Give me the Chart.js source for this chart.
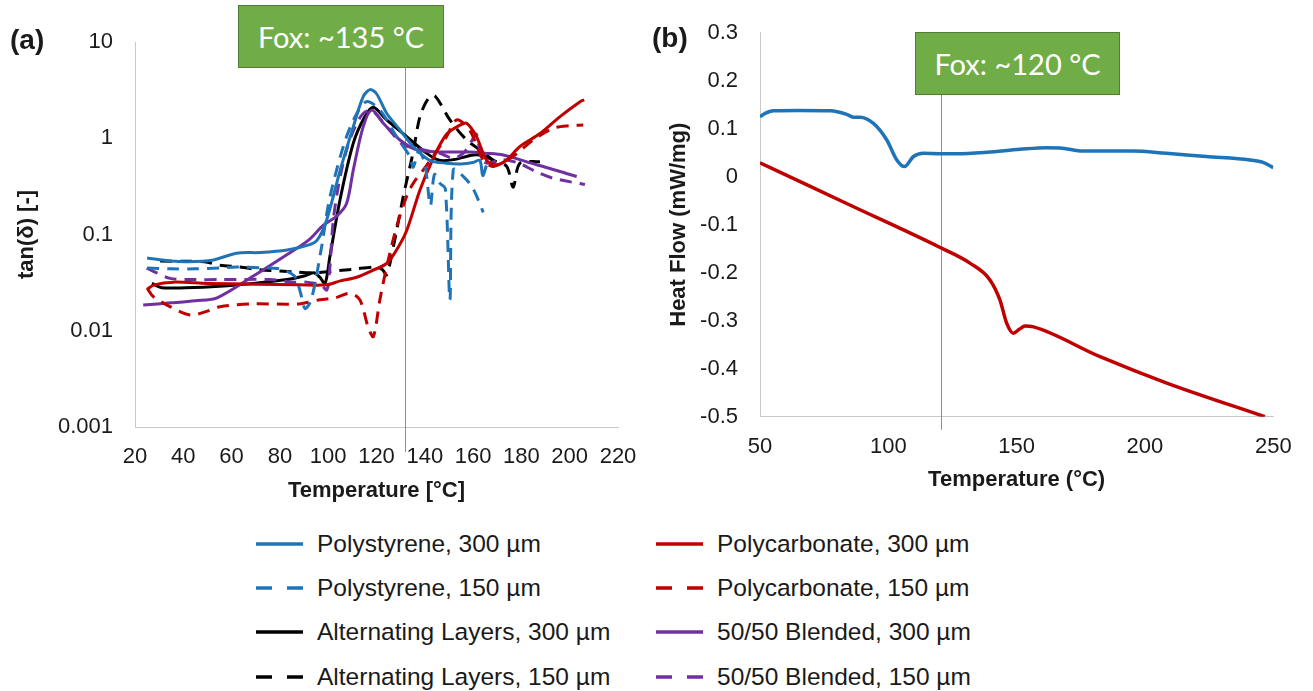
<!DOCTYPE html>
<html>
<head>
<meta charset="utf-8">
<title>tan(δ) and heat flow</title>
<script src="https://cdn.jsdelivr.net/npm/chart.js@4.4.1/dist/chart.umd.min.js"></script>
<style>
  body { margin: 0; background: #fff; }
  #page { position: relative; width: 1313px; height: 691px; overflow: hidden; background: #fff;
          font-family: 'Liberation Sans', Arial, sans-serif; color: #1a1a1a; }
  #chartA { position: absolute; left: 0; top: 0; }
  #chartB { position: absolute; left: 640px; top: 0; }
  .panel { position: absolute; font-weight: bold; font-size: 28px; line-height: 32px; }
  .fox { position: absolute; box-sizing: border-box; background: #70ad47; border: 1.5px solid #507e32;
         color: #fff; font-family: Lato, 'Open Sans', sans-serif; font-size: 29px;
         display: flex; align-items: center; justify-content: center; }
  .leg { position: absolute; height: 30px; display: flex; align-items: center; font-size: 24.5px; white-space: nowrap; }
  .leg svg { margin-right: 14px; }
</style>
</head>
<body>
<div id="page">
  <canvas id="chartA" width="640" height="510"></canvas>
  <canvas id="chartB" width="673" height="510"></canvas>
  <div class="panel" style="left:10px; top:24px;">(a)</div>
  <div class="panel" style="left:652px; top:22px;">(b)</div>
  <div class="fox" style="left:238px; top:5px; width:206px; height:63px;">Fox: ~135 °C</div>
  <div class="fox" style="left:915px; top:32px; width:205px; height:63px;">Fox: ~120 °C</div>
  <div id="legend"></div>
</div>

<script>
// ---------------------------------------------------------
// (a) tan(delta) vs temperature
// ---------------------------------------------------------
const tempPs300 = [25, 35, 41, 52, 62, 72, 83, 92, 95.5, 99.3, 105, 110.4, 114.5, 117.3, 120, 124.2, 129.7, 135.2, 142, 149, 155, 160, 162.8, 164, 165.5];
const tanPs300  = [0.057, 0.053, 0.052, 0.054, 0.064, 0.065, 0.069, 0.078, 0.088, 0.14, 0.47, 1.32, 2.7, 3.2, 2.9, 1.82, 1.22, 0.82, 0.59, 0.55, 0.54, 0.56, 0.59, 0.41, 0.52];

const tempPs150 = [25, 35, 45, 55, 62, 72, 80, 86, 88.5, 90.4, 93, 97.3, 100, 103.5, 107.6, 111.8, 115.9, 121.4, 128.3, 133.9, 135.2, 137.5, 140, 142.3, 144, 146.3, 148.5, 150.4, 151.8, 156, 160, 164.2];
const tanPs150  = [0.045, 0.044, 0.044, 0.045, 0.046, 0.045, 0.044, 0.037, 0.025, 0.017, 0.021, 0.075, 0.2, 0.47, 1.04, 1.8, 2.4, 1.97, 1.04, 0.64, 0.5, 0.73, 0.55, 0.2, 0.42, 0.34, 0.3, 0.021, 0.47, 0.4, 0.3, 0.17];

const tempAl300 = [27, 31, 41, 55, 69, 83, 90, 94, 96.5, 98.7, 100.7, 104.9, 110.4, 115.2, 118.7, 124.2, 132.5, 140.7, 146, 152, 160, 164, 168.4];
const tanAl300  = [0.031, 0.028, 0.028, 0.029, 0.031, 0.034, 0.037, 0.04, 0.036, 0.031, 0.059, 0.23, 0.89, 1.68, 2.1, 1.55, 1.04, 0.7, 0.59, 0.6, 0.67, 0.66, 0.59];

const tempAl150 = [30.4, 48.7, 55.2, 63.5, 71.7, 85.5, 93.8, 110, 120, 122.5, 124.2, 127, 131.1, 135.2, 138, 141.5, 144.2, 150.4, 157.3, 162.8, 168.4, 173.9, 176.6, 179.4, 187.7];
const tanAl150  = [0.053, 0.052, 0.048, 0.046, 0.043, 0.041, 0.04, 0.0435, 0.046, 0.043, 0.038, 0.075, 0.25, 0.72, 1.68, 2.6, 2.75, 1.55, 0.96, 0.76, 0.59, 0.51, 0.31, 0.55, 0.57];

const tempPc300 = [25, 28, 36, 50, 70, 88, 99.3, 105, 111.8, 118, 124.2, 128.3, 132.5, 138, 143.5, 149, 154.6, 157.3, 161.4, 165.6, 169.7, 173.8, 179.4, 187.7, 196, 204.3, 206];
const tanPc300  = [0.027, 0.03, 0.032, 0.031, 0.0305, 0.03, 0.03, 0.033, 0.036, 0.042, 0.05, 0.069, 0.11, 0.29, 0.62, 1.1, 1.37, 1.43, 1.04, 0.59, 0.53, 0.59, 0.82, 1.12, 1.68, 2.4, 2.5];

const tempPc150 = [25, 27.6, 34.5, 42.8, 50, 55.2, 69, 88, 96.6, 103, 109, 113.1, 116.5, 118.7, 121.4, 124.2, 128.3, 132.5, 135.2, 140.7, 149, 153.2, 158.7, 164.2, 168.4, 176.6, 184.9, 193.2, 200, 205.6];
const tanPc150  = [0.0277, 0.0226, 0.0178, 0.0146, 0.016, 0.0178, 0.019, 0.019, 0.021, 0.022, 0.0245, 0.021, 0.011, 0.0087, 0.021, 0.046, 0.12, 0.25, 0.34, 0.52, 1.04, 1.55, 1.2, 0.59, 0.51, 0.65, 0.96, 1.27, 1.35, 1.37];

const tempBl300 = [23.4, 35, 45, 54, 69, 83, 92, 98, 103.5, 107.6, 110.4, 114.5, 118, 122.8, 129.7, 136.6, 146.3, 152, 158.7, 165, 172.5, 186.3, 195, 202.9];
const tanBl300  = [0.0185, 0.0195, 0.0205, 0.022, 0.037, 0.062, 0.088, 0.125, 0.155, 0.21, 0.47, 1.32, 1.96, 1.43, 0.96, 0.76, 0.72, 0.72, 0.72, 0.7, 0.67, 0.53, 0.46, 0.4];

const tempBl150 = [24.8, 29, 34.5, 45, 55, 76, 85.5, 91, 97, 99.4, 100.5, 102.1, 104.5, 107.6, 111, 114.5, 118, 124.2, 131, 136, 140, 146, 151.8, 156, 159, 161.4, 163.5, 166, 172, 179, 186, 193.2, 206.3];
const tanBl150  = [0.0446, 0.04, 0.035, 0.034, 0.034, 0.034, 0.032, 0.032, 0.03, 0.0265, 0.04, 0.14, 0.35, 0.755, 1.3, 1.81, 1.95, 1.32, 0.85, 0.8, 0.75, 0.7, 0.62, 0.7, 0.9, 1.1, 0.6, 0.55, 0.6, 0.55, 0.45, 0.384, 0.33];

const tanTicks = [0.001, 0.01, 0.1, 1, 10];
const foxTempA = 132;

// ---------------------------------------------------------
// (b) heat flow (DSC)
// ---------------------------------------------------------
const dscTempPs = [50, 52, 55.2, 65, 77.3, 83.8, 86.4, 89, 94.2, 99.4, 103.3, 106.3, 109.8, 113.7, 120, 126.6, 138.4, 151.3, 161.7, 166.9, 175.9, 195.3, 208.3, 223.9, 240.9, 246, 250];
const dscFlowPs = [0.125, 0.132, 0.1375, 0.138, 0.1375, 0.13, 0.124, 0.124, 0.111, 0.0765, 0.035, 0.021, 0.042, 0.0487, 0.048, 0.048, 0.051, 0.057, 0.0604, 0.06, 0.0535, 0.0535, 0.0487, 0.042, 0.035, 0.03, 0.019];

const dscTempPc = [50, 85, 120, 131.8, 139.6, 143.5, 146.1, 148.7, 151, 153.3, 156.6, 182.5, 208.5, 246.7];
const dscFlowPc = [0.029, -0.059, -0.147, -0.18, -0.215, -0.257, -0.305, -0.326, -0.318, -0.311, -0.313, -0.375, -0.43, -0.5];

const foxTempB = 120.5;

// ---------------------------------------------------------
// series styles + legend
// ---------------------------------------------------------
const BLUE = '#1f74b8', RED = '#c00000', BLACK = '#000000', PURPLE = '#7030a0';
const DASH = [12, 8];

const seriesA = [
  { label: 'Polystyrene, 300 µm',        t: tempPs300, v: tanPs300, color: BLUE,   dash: [] },
  { label: 'Polystyrene, 150 µm',        t: tempPs150, v: tanPs150, color: BLUE,   dash: DASH },
  { label: 'Polycarbonate, 300 µm',      t: tempPc300, v: tanPc300, color: RED,    dash: [] },
  { label: 'Polycarbonate, 150 µm',      t: tempPc150, v: tanPc150, color: RED,    dash: DASH },
  { label: '50/50 Blended, 300 µm',      t: tempBl300, v: tanBl300, color: PURPLE, dash: [] },
  { label: '50/50 Blended, 150 µm',      t: tempBl150, v: tanBl150, color: PURPLE, dash: DASH },
  { label: 'Alternating Layers, 300 µm', t: tempAl300, v: tanAl300, color: BLACK,  dash: [] },
  { label: 'Alternating Layers, 150 µm', t: tempAl150, v: tanAl150, color: BLACK,  dash: DASH }
];

const legendOrder = [
  ['Polystyrene, 300 µm', 'Polystyrene, 150 µm', 'Alternating Layers, 300 µm', 'Alternating Layers, 150 µm'],
  ['Polycarbonate, 300 µm', 'Polycarbonate, 150 µm', '50/50 Blended, 300 µm', '50/50 Blended, 150 µm']
];

function toPoints(xs, ys) {
  return xs.map((x, i) => ({ x: x, y: ys[i] }));
}

// vertical Fox line, drawn under the curves
const foxLinePlugin = {
  id: 'foxLine',
  beforeDatasetsDraw(chart, args, opts) {
    const ctx = chart.ctx;
    const x = chart.scales.x.getPixelForValue(opts.value);
    ctx.save();
    ctx.strokeStyle = '#70ad47';
    ctx.lineWidth = 1;
    ctx.beginPath();
    ctx.moveTo(Math.round(x) + 0.5, opts.top);
    ctx.lineTo(Math.round(x) + 0.5, chart.chartArea.bottom + opts.below);
    ctx.stroke();
    ctx.restore();
  }
};

// keep the plot box where we put it (no extra room for edge tick labels)
function fixX(h) {
  return s => { s.height = h; s.paddingLeft = 0; s.paddingRight = 0; };
}
function fixY(w) {
  return s => { s.width = w; s.paddingTop = 0; s.paddingBottom = 0; };
}

Chart.defaults.font.family = "'Liberation Sans', Arial, sans-serif";
Chart.defaults.color = '#1a1a1a';
Chart.defaults.animation = false;

const AXIS_GREY = '#c8c8c8';

// ---- chart (a)
new Chart(document.getElementById('chartA'), {
  type: 'line',
  data: {
    datasets: seriesA.map(s => ({
      label: s.label,
      data: toPoints(s.t, s.v),
      borderColor: s.color,
      borderDash: s.dash,
      borderWidth: 3,
      pointRadius: 0,
      tension: 0.3,
      fill: false
    }))
  },
  options: {
    responsive: false,
    layout: { padding: { left: 0, top: 42, right: 22, bottom: 0 } },
    plugins: {
      legend: { display: false },
      tooltip: { enabled: false },
      foxLine: { value: foxTempA, top: 68, below: 25 }
    },
    scales: {
      x: {
        type: 'linear', min: 20, max: 220,
        ticks: { stepSize: 20, padding: 17, font: { size: 22 }, maxRotation: 0 },
        grid: { display: false, drawTicks: false },
        border: { display: true, color: AXIS_GREY, width: 1 },
        title: { display: true, text: 'Temperature [°C]', font: { size: 22, weight: 'bold' }, padding: { top: 0, bottom: 6 } },
        afterFit: fixX(83)
      },
      y: {
        type: 'logarithmic', min: 0.001, max: 10,
        afterBuildTicks: s => { s.ticks = tanTicks.map(v => ({ value: v })); },
        ticks: { padding: 22, font: { size: 22 }, callback: v => String(v) },
        grid: { display: false, drawTicks: false },
        border: { display: true, color: AXIS_GREY, width: 1 },
        title: { display: true, text: 'tan(δ) [-]', font: { size: 22, weight: 'bold' }, padding: { top: 14, bottom: 0 } },
        afterFit: fixY(135)
      }
    }
  },
  plugins: [foxLinePlugin]
});

// ---- chart (b)
new Chart(document.getElementById('chartB'), {
  type: 'line',
  data: {
    datasets: [
      { label: 'Polystyrene', data: toPoints(dscTempPs, dscFlowPs), borderColor: BLUE, borderWidth: 3.5,
        pointRadius: 0, cubicInterpolationMode: 'monotone', fill: false },
      { label: 'Polycarbonate', data: toPoints(dscTempPc, dscFlowPc), borderColor: RED, borderWidth: 3.5,
        pointRadius: 0, cubicInterpolationMode: 'monotone', fill: false }
    ]
  },
  options: {
    responsive: false,
    layout: { padding: { left: 0, top: 32.7, right: 39.7, bottom: 0 } },
    plugins: {
      legend: { display: false },
      tooltip: { enabled: false },
      foxLine: { value: foxTempB, top: 95, below: 13 }
    },
    scales: {
      x: {
        type: 'linear', min: 50, max: 250,
        ticks: { stepSize: 50, padding: 17, font: { size: 22 }, maxRotation: 0 },
        grid: { display: false, drawTicks: false },
        border: { display: true, color: AXIS_GREY, width: 1 },
        title: { display: true, text: 'Temperature (°C)', font: { size: 22, weight: 'bold' }, padding: { top: 0, bottom: 17 } },
        afterFit: fixX(93.3)
      },
      y: {
        type: 'linear', min: -0.5, max: 0.3,
        ticks: { stepSize: 0.1, padding: 22, font: { size: 22 },
                 callback: v => Math.abs(v) < 1e-9 ? '0' : String(Math.round(v * 10) / 10) },
        grid: { display: false, drawTicks: false },
        border: { display: true, color: AXIS_GREY, width: 1 },
        title: { display: true, text: 'Heat Flow (mW/mg)', font: { size: 22, weight: 'bold' }, padding: { top: 26, bottom: 0 } },
        afterFit: fixY(120)
      }
    }
  },
  plugins: [foxLinePlugin]
});

// ---- shared legend under both panels
const legend = document.getElementById('legend');
const colLeft = [256, 656];
legendOrder.forEach((col, c) => {
  col.forEach((name, r) => {
    const s = seriesA.find(d => d.label === name);
    const item = document.createElement('div');
    item.className = 'leg';
    item.style.left = colLeft[c] + 'px';
    item.style.top = (528.5 + r * 44.4) + 'px';
    item.innerHTML =
      '<svg width="47" height="8"><line x1="0" y1="4" x2="47" y2="4" stroke="' + s.color +
      '" stroke-width="3.5" stroke-dasharray="' + (s.dash.length ? '16 15' : 'none') + '"/></svg>' +
      '<span>' + name + '</span>';
    legend.appendChild(item);
  });
});
</script>
</body>
</html>
